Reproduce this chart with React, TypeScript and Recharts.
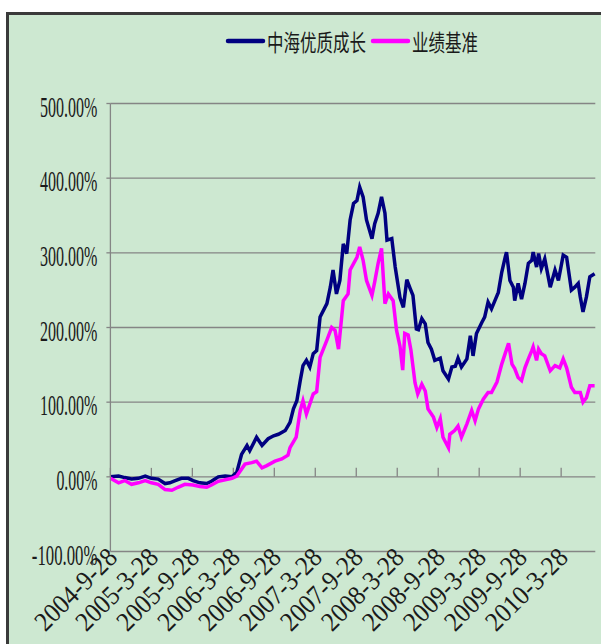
import React from "react";
import { LineChart, Line, XAxis, YAxis, CartesianGrid, Legend, ReferenceLine } from "recharts";

// months since 2004-9-28
const fundMonths = [
  0, 1.2, 2.1, 3.1, 4.1, 5.1, 6.0, 7.0, 8.0, 8.7, 9.5, 10.4, 11.4, 12.1, 13.1, 14.1, 14.8, 15.8, 16.8, 17.8,
  18.5, 19.2, 20.0, 20.4, 21.4, 22.2, 23.1, 23.9, 24.6, 25.6, 26.3, 26.8, 27.3, 27.8, 28.2, 28.7, 29.2, 29.7, 30.2, 30.7,
  31.7, 32.2, 32.6, 33.1, 33.6, 34.1, 34.6, 35.1, 35.6, 36.1, 36.5, 37.0, 37.5, 38.3, 38.7, 39.2, 39.7, 40.2, 40.5, 41.2,
  41.7, 42.4, 42.9, 43.4, 43.9, 44.3, 44.8, 45.1, 45.6, 46.1, 46.5, 47.0, 47.5, 48.3, 48.7, 49.5, 50.0, 50.5, 50.9, 51.4,
  52.2, 52.7, 53.1, 53.6, 54.4, 54.8, 55.3, 55.8, 56.3, 56.8, 57.3, 57.8, 58.0, 58.5, 59.0, 59.2, 59.7, 60.2, 60.7, 61.2,
  61.7, 61.9, 62.4, 62.7, 63.1, 63.6, 64.4, 65.1, 65.6, 66.3, 66.8, 67.5, 68.0, 68.5, 68.8, 69.2, 69.7, 70.2, 70.9,
];
const fundValues = [
  0, 1, -1, -3, -2, 1, -2, -3, -9, -8, -5, -2, -2, -5, -8, -9, -6, 0, 1, 0,
  6, 30, 42, 35, 53, 42, 51, 55, 57, 62, 73, 91, 102, 129, 149, 156, 147, 165, 169, 214,
  232, 254, 277, 245, 263, 312, 299, 344, 366, 370, 388, 375, 344, 319, 339, 353, 375, 353, 317, 319,
  281, 240, 227, 264, 252, 243, 198, 197, 212, 205, 180, 171, 156, 159, 142, 131, 147, 148, 159, 147,
  158, 189, 162, 192, 207, 214, 234, 225, 236, 247, 274, 294, 301, 263, 254, 236, 259, 238, 259, 286,
  290, 301, 281, 299, 279, 292, 254, 277, 263, 297, 294, 250, 254, 259, 241, 221, 241, 268, 272,
];

const benchMonths = [
  0, 1.2, 2.1, 3.1, 4.1, 5.1, 6.0, 7.0, 8.0, 9.0, 9.9, 10.9, 12.1, 13.1, 14.1, 14.8, 15.8, 16.8, 17.8, 18.5,
  19.7, 20.7, 21.4, 22.2, 22.9, 24.1, 25.1, 26.0, 26.3, 27.2, 27.8, 28.2, 28.7, 29.7, 30.2, 30.7, 31.7, 32.4, 32.9, 33.4,
  34.1, 34.8, 35.1, 36.1, 36.5, 37.0, 37.5, 38.3, 38.7, 39.2, 39.7, 40.2, 40.7, 41.4, 41.9, 42.4, 42.8, 43.1, 43.6, 44.0,
  44.6, 45.0, 45.6, 46.1, 46.5, 47.3, 47.8, 48.3, 48.7, 49.5, 49.7, 50.4, 50.9, 51.4, 52.2, 52.9, 53.4, 53.9, 54.6, 55.3,
  55.8, 56.6, 57.3, 57.8, 58.3, 58.8, 59.2, 59.7, 60.2, 60.7, 61.2, 61.7, 61.9, 62.4, 62.7, 63.1, 63.6, 64.4, 65.1, 65.8,
  66.3, 66.8, 67.5, 68.0, 68.8, 69.2, 69.7, 70.2, 70.9,
];
const benchValues = [
  -2, -8, -5, -10, -8, -5, -8, -10, -17, -18, -14, -10, -11, -13, -14, -11, -6, -4, -2, 1,
  17, 19, 21, 12, 15, 21, 24, 29, 39, 53, 89, 102, 84, 111, 114, 160, 183, 200, 196, 171,
  236, 245, 277, 294, 308, 290, 263, 243, 261, 286, 306, 232, 245, 236, 196, 175, 143, 192, 190, 170,
  126, 111, 124, 115, 91, 80, 66, 78, 53, 39, 57, 62, 68, 53, 71, 89, 75, 91, 104, 113,
  113, 127, 151, 165, 179, 151, 145, 133, 129, 146, 158, 169, 174, 156, 171, 165, 162, 142, 149, 146,
  158, 146, 120, 113, 113, 100, 106, 122, 122,
];

const seriesNames = ["中海优质成长", "业绩基准"];
const tickMonths = [0, 6, 12, 18, 24, 30, 36, 42, 48, 54, 60, 66];
const tickLabels = [
  "2004-9-28", "2005-3-28", "2005-9-28", "2006-3-28", "2006-9-28", "2007-3-28",
  "2007-9-28", "2008-3-28", "2008-9-28", "2009-3-28", "2009-9-28", "2010-3-28",
];
const yTicks = [-100, 0, 100, 200, 300, 400, 500];

const fundData = fundMonths.map((m, i) => ({ m, v: fundValues[i] }));
const benchData = benchMonths.map((m, i) => ({ m, v: benchValues[i] }));

const serif = "'Liberation Serif', 'DejaVu Serif', serif";
const cjk = "'Noto Sans CJK SC', 'Noto Sans', sans-serif";

const YTick = ({ x, y, payload }: any) => {
  const label = `${payload.value.toFixed(2)}%`;
  return (
    <text
      x={x - 7}
      y={y + 3}
      textAnchor="end"
      dominantBaseline="central"
      fontSize={29}
      fontFamily={serif}
      fill="#1a1a1a"
      textLength={label.length * 8.2}
      lengthAdjust="spacingAndGlyphs"
    >
      {label}
    </text>
  );
};

const XTick = ({ x, y, payload }: any) => {
  const label = tickLabels[tickMonths.indexOf(payload.value)] ?? "";
  const ax = x + 2;
  const ay = y + 1;
  return (
    <text
      x={ax}
      y={ay}
      transform={`rotate(-45, ${ax}, ${ay})`}
      textAnchor="end"
      dominantBaseline="central"
      fontSize={27}
      fontFamily={serif}
      fill="#1a1a1a"
      textLength={104}
      lengthAdjust="spacingAndGlyphs"
    >
      {label}
    </text>
  );
};

// tall, narrow legend glyphs: small font stretched vertically
const renderLegend = (props: any) => {
  const payload = [...(props.payload || [])].sort(
    (a: any, b: any) => seriesNames.indexOf(a.value) - seriesNames.indexOf(b.value)
  );
  let cx = 0;
  const items = payload.map((entry: any) => {
    const textW = entry.value.length * 16.5;
    const item = { ...entry, x: cx, textW };
    cx += 35 + 4 + textW + 7;
    return item;
  });
  return (
    <svg width={cx + 20} height={36} style={{ display: "block", overflow: "visible" }}>
      {items.map((it: any, i: number) => (
        <g key={`legend-${i}`}>
          <line x1={it.x + 2} x2={it.x + 37} y1={16} y2={16} stroke={it.color} strokeWidth={4.5} strokeLinecap="round" />
          <text
            transform={`translate(${it.x + 41}, 16) scale(1, 1.4)`}
            x={0}
            y={0}
            dominantBaseline="central"
            fontSize={16.5}
            fontFamily={cjk}
            fill="#1a1a1a"
            textLength={it.textW}
            lengthAdjust="spacingAndGlyphs"
          >
            {it.value}
          </text>
        </g>
      ))}
    </svg>
  );
};

export default function App() {
  return (
    <div style={{ position: "absolute", left: 0, top: 0, width: 601, height: 644, overflow: "hidden", background: "#fff" }}>
      <div
        style={{
          position: "absolute",
          left: 6,
          top: 12,
          width: 640,
          height: 680,
          border: "3px solid #3a3a3a",
          background: "#cde8d1",
        }}
      />
      <div style={{ position: "absolute", left: 0, top: 0 }}>
        <LineChart width={601} height={644} margin={{ top: 103.5, right: 5.7, bottom: 32.5, left: 50.4 }}>
          <CartesianGrid vertical={false} stroke="#858585" strokeWidth={1.3} />
          <XAxis
            dataKey="m"
            type="number"
            domain={[0, 71]}
            ticks={tickMonths}
            tick={<XTick />}
            tickLine={false}
            axisLine={false}
            tickSize={0}
            tickMargin={0}
            height={60}
            allowDuplicatedCategory={false}
            interval={0}
          />
          <YAxis
            type="number"
            domain={[-100, 500]}
            ticks={yTicks}
            tick={<YTick />}
            width={60}
            tickSize={4}
            tickMargin={2}
            interval={0}
            axisLine={{ stroke: "#858585", strokeWidth: 1.3 }}
            tickLine={{ stroke: "#858585", strokeWidth: 1.3 }}
          />
          {tickMonths.map((m) => (
            <ReferenceLine
              key={`tick-${m}`}
              segment={[{ x: m, y: 0 }, { x: m, y: 12 }]}
              stroke="#858585"
              strokeWidth={1.3}
            />
          ))}
          <Legend
            content={renderLegend}
            layout="horizontal"
            verticalAlign="middle"
            align="center"
            wrapperStyle={{ position: "absolute", top: 25, left: 226, width: 300 }}
          />
          <Line
            data={fundData}
            dataKey="v"
            name={seriesNames[0]}
            type="linear"
            stroke="#000080"
            strokeWidth={3.5}
            dot={false}
            activeDot={false}
            isAnimationActive={false}
          />
          <Line
            data={benchData}
            dataKey="v"
            name={seriesNames[1]}
            type="linear"
            stroke="#ff00ff"
            strokeWidth={3.5}
            dot={false}
            activeDot={false}
            isAnimationActive={false}
          />
        </LineChart>
      </div>
    </div>
  );
}
